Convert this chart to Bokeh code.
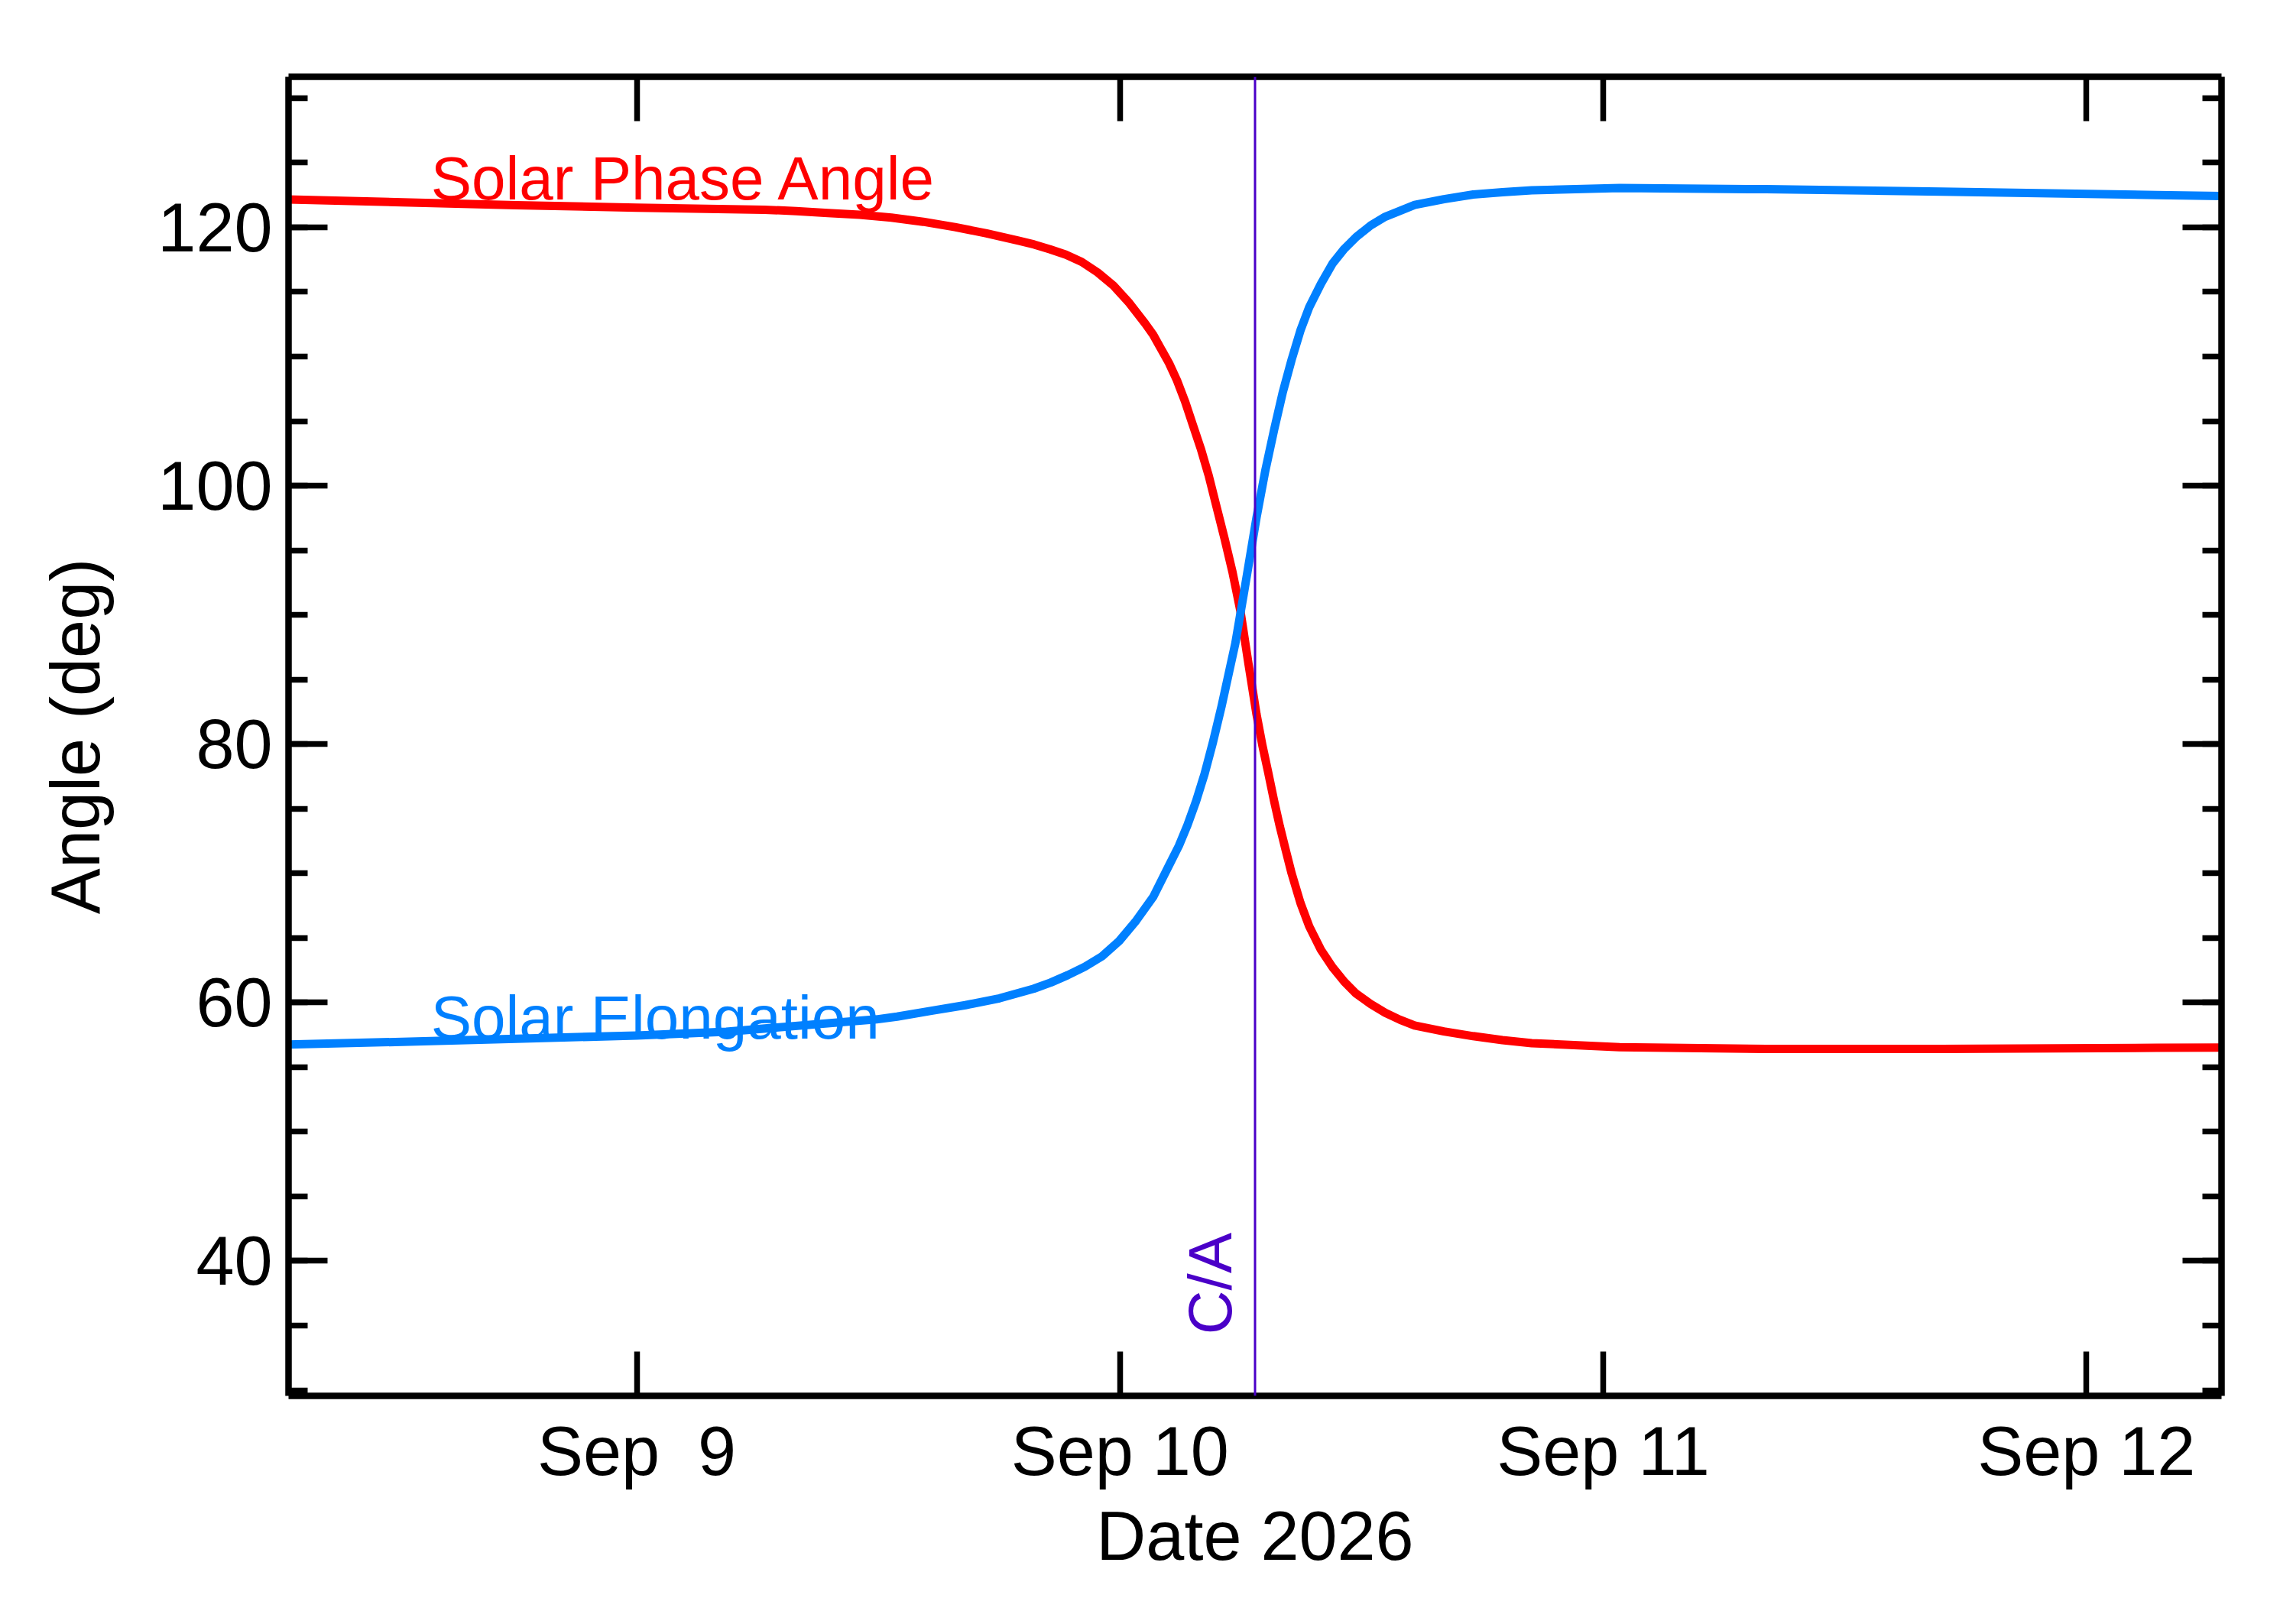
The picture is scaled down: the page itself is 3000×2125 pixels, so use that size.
from bokeh.embed import file_html
from bokeh.models import (ColumnDataSource, CustomJSTickFormatter, FixedTicker,
                          Label, LinearAxis, Range1d, Span)
from bokeh.plotting import figure
from bokeh.resources import INLINE

# days of September 2026 (UT), closest approach at Sep 10 06:42
ca_day = 10.2795

day_ticks = [9, 10, 11, 12]
day_labels = ["Sep  9", "Sep 10", "Sep 11", "Sep 12"]
angle_ticks = [40, 60, 80, 100, 120]

phase_day = [8.2795, 8.50, 8.75, 9.00, 9.2644, 9.3302, 9.3957, 9.4614, 9.527,
             9.5927, 9.6584, 9.724, 9.7897, 9.8225, 9.8553, 9.8882, 9.921,
             9.9538, 9.9866, 10.0194, 10.0522, 10.0687, 10.0851, 10.1015,
             10.118, 10.1344, 10.1508, 10.1672, 10.1836, 10.2, 10.2165,
             10.2328, 10.2493, 10.266, 10.2826, 10.2947, 10.3068, 10.3189,
             10.331, 10.3431, 10.3552, 10.3735, 10.3916, 10.4158, 10.44,
             10.4643, 10.4885, 10.5188, 10.549, 10.5795, 10.6098, 10.6704,
             10.731, 10.7915, 10.8521, 11.0339, 11.337, 11.7004, 12.146,
             12.2795]
phase_val = [122.15, 121.95, 121.72, 121.52, 121.36, 121.26, 121.11, 120.97,
             120.75, 120.43, 120.02, 119.53, 118.97, 118.67, 118.30, 117.88,
             117.32, 116.51, 115.49, 114.14, 112.55, 111.69, 110.59, 109.49,
             108.15, 106.55, 104.71, 102.88, 100.79, 98.35, 95.9, 93.33,
             90.3, 86.2, 82.3, 79.91, 77.8, 75.62, 73.6, 71.78, 70.0, 67.71,
             65.9, 64.09, 62.73, 61.61, 60.70, 59.89, 59.21, 58.67, 58.22,
             57.77, 57.4, 57.09, 56.86, 56.55, 56.41, 56.41, 56.50, 56.52]

elong_day = [8.2795, 8.5, 8.75, 9.0, 9.1853, 9.4963, 9.5387, 9.6095, 9.6801,
             9.7506, 9.8215, 9.8569, 9.8922, 9.9276, 9.9628, 9.9983, 10.0336,
             10.069, 10.1044, 10.122, 10.1397, 10.1575, 10.175, 10.1927,
             10.2104, 10.2387, 10.2584, 10.2826, 10.3007, 10.3189, 10.3371,
             10.3552, 10.3734, 10.3916, 10.4158, 10.44, 10.4643, 10.4885,
             10.5188, 10.549, 10.5795, 10.6098, 10.6704, 10.731, 10.7915,
             10.8521, 11.0339, 11.337, 11.7004, 12.146, 12.2795]
elong_val = [56.75, 56.95, 57.2, 57.45, 57.75, 58.70, 58.91, 59.36, 59.80,
             60.33, 61.07, 61.55, 62.13, 62.78, 63.58, 64.76, 66.34, 68.19,
             70.83, 72.14, 73.73, 75.58, 77.69, 80.19, 82.96, 87.8, 92.12,
             97.54, 101.16, 104.32, 107.26, 109.75, 112.01, 113.82, 115.62,
             117.2, 118.34, 119.24, 120.15, 120.82, 121.28, 121.73, 122.18,
             122.54, 122.72, 122.86, 123.04, 122.95, 122.77, 122.5, 122.42]

FONT = "Liberation Sans"
RED = "#ff0000"
BLUE = "#0080ff"
PURPLE = "#4a00c8"


def style_axis(axis, tick_len, minor_len, labels=True):
    axis.axis_line_width = 8.5
    axis.major_tick_in = tick_len
    axis.major_tick_out = 0
    axis.minor_tick_in = minor_len
    axis.minor_tick_out = 0
    axis.major_tick_line_width = 7.5
    axis.minor_tick_line_width = 7.5
    if minor_len == 0:
        axis.minor_tick_line_color = None
    axis.major_label_text_font = FONT
    axis.major_label_text_font_size = "90px"
    axis.major_label_text_color = "black"
    axis.axis_label_text_font = FONT
    axis.axis_label_text_font_size = "90px"
    axis.axis_label_text_font_style = "normal"
    axis.axis_label_text_color = "black"
    if not labels:
        axis.formatter = CustomJSTickFormatter(code="return ''")


def make_plot():
    p = figure(width=2984, height=2109,
               x_range=Range1d(ca_day - 2, ca_day + 2),
               y_range=Range1d(29.56, 131.65),
               output_backend="svg", toolbar_location=None,
               min_border_left=377, min_border_right=78,
               min_border_top=100, min_border_bottom=283)
    p.grid.visible = False
    p.outline_line_color = None
    p.background_fill_color = "white"
    p.border_fill_color = "white"

    xticker = FixedTicker(ticks=day_ticks, minor_ticks=[])
    yticker = FixedTicker(ticks=angle_ticks, minor_ticks=list(range(30, 135, 5)))

    xfmt = CustomJSTickFormatter(args=dict(day_vals=day_ticks, day_text=day_labels), code="""
        const i = day_vals.indexOf(tick);
        return i >= 0 ? day_text[i].replace(/  /g, ' \\u00a0') : '';
    """)

    p.xaxis.ticker = xticker
    p.xaxis.formatter = xfmt
    p.xaxis.axis_label = "Date 2026"
    p.xaxis.major_label_standoff = 22
    p.xaxis.axis_label_standoff = 8
    style_axis(p.xaxis[0], 58, 0)

    p.yaxis.ticker = yticker
    p.yaxis.axis_label = "Angle (deg)"
    p.yaxis.major_label_standoff = 21
    p.yaxis.axis_label_standoff = 54
    style_axis(p.yaxis[0], 51, 25)

    top = LinearAxis(ticker=xticker)
    style_axis(top, 58, 0, labels=False)
    p.add_layout(top, "above")
    right = LinearAxis(ticker=yticker)
    style_axis(right, 51, 25, labels=False)
    p.add_layout(right, "right")

    src_phase = ColumnDataSource(data=dict(x=phase_day, y=phase_val))
    src_elong = ColumnDataSource(data=dict(x=elong_day, y=elong_val))
    p.line("x", "y", source=src_phase, line_color=RED, line_width=11,
           line_join="round")
    p.line("x", "y", source=src_elong, line_color=BLUE, line_width=11,
           line_join="round")

    p.add_layout(Span(location=ca_day, dimension="height",
                      line_color=PURPLE, line_width=3))

    p.add_layout(Label(x=8.574, y=123.8, text="Solar Phase Angle",
                       text_font=FONT, text_font_size="80px", text_color=RED,
                       text_baseline="alphabetic"))
    p.add_layout(Label(x=8.574, y=58.85, text="Solar Elongation",
                       text_font=FONT, text_font_size="80px", text_color=BLUE,
                       text_baseline="alphabetic"))
    p.add_layout(Label(x=10.1877, y=34.31, text="C/A", angle=90,
                       angle_units="deg", text_font=FONT,
                       text_font_size="80px", text_color=PURPLE,
                       text_baseline="alphabetic"))
    return p


if __name__ == "__main__":
    plot = make_plot()
    with open("out.html", "w") as f:
        f.write(file_html(plot, INLINE))
